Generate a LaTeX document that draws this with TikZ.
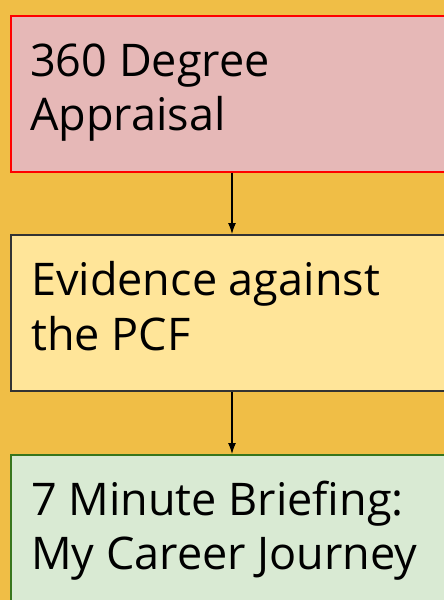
\documentclass[tikz,border=0pt]{standalone}
\usepackage{fontspec}
\setmainfont{Open Sans}
\usetikzlibrary{arrows.meta}
\definecolor{bgc}{HTML}{F0BE46}
\definecolor{pinkc}{HTML}{E6B8B7}
\definecolor{yelc}{HTML}{FFE599}
\definecolor{grnc}{HTML}{D9EAD3}
\definecolor{grnb}{HTML}{38761D}
\definecolor{greyb}{HTML}{333333}
\tikzset{
  box/.style={rectangle, anchor=north west, minimum width=444pt, minimum height=156pt, inner sep=0pt, line width=2pt},
  txt/.style={anchor=base west, inner sep=0pt, align=left, font=\fontsize{45}{54.5}\selectfont},
  conn/.style={-{Latex[length=11pt,width=8pt]}, line width=1.1pt, black}
}
\begin{document}
\begin{tikzpicture}[x=1pt,y=1pt]
\useasboundingbox (0,0) rectangle (444,-600);
\fill[bgc] (0,0) rectangle (444,-600);
\node[box, draw=red, fill=pinkc] (b1) at (10,-14.5) {};
\node[box, draw=greyb, fill=yelc] (b2) at (10,-234) {};
\node[box, draw=grnb, fill=grnc] (b3) at (10,-454) {};
\node[txt] (t1) at (30,-130.5) {360 Degree\\Appraisal};
\node[txt] (t2) at (31,-350) {Evidence against\\the PCF};
\node[txt] (t3) at (31,-569.5) {7 Minute Briefing:\\My Career Journey};
\draw[conn] (b1.south -| 232,0) -- (b2.north -| 232,0);
\draw[conn] (b2.south -| 232,0) -- (b3.north -| 232,0);
\end{tikzpicture}
\end{document}
